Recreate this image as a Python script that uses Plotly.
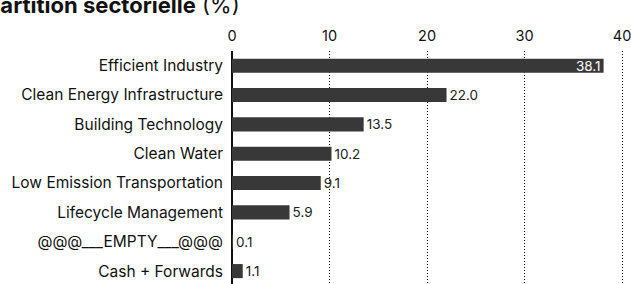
import plotly.graph_objects as go

categories = [
    "Efficient Industry",
    "Clean Energy Infrastructure",
    "Building Technology",
    "Clean Water",
    "Low Emission Transportation",
    "Lifecycle Management",
    "@@@___EMPTY___@@@",
    "Cash + Forwards",
]
values = [38.1, 22.0, 13.5, 10.2, 9.1, 5.9, 0.1, 1.1]
x_ticks = [0, 10, 20, 30, 40]
title_bold = "Répartition sectorielle"
title_rest = " (%)"

W, H = 631, 284
X_MAX = 40.4
ML, MT, MB = 232, 51, 0
plot_w = round(390 * X_MAX / 40)
MR = W - ML - plot_w
plot_h = H - MT - MB

FONT = "Inter, Liberation Sans, sans-serif"
positions = ["inside" if v > 30 else "outside" for v in values]

fig = go.Figure(
    go.Bar(
        x=values,
        y=categories,
        orientation="h",
        marker=dict(color="#383838", line=dict(width=0)),
        text=[f"{v:.1f}" for v in values],
        textposition=positions,
        insidetextanchor="end",
        constraintext="none",
        insidetextfont=dict(color="#ffffff", size=13.5, family=FONT),
        outsidetextfont=dict(color="#222222", size=13.5, family=FONT),
        cliponaxis=False,
        width=0.48,
        hoverinfo="skip",
    )
)

fig.update_layout(
    width=W,
    height=H,
    margin=dict(l=ML, r=MR, t=MT, b=MB, pad=0),
    paper_bgcolor="white",
    plot_bgcolor="white",
    showlegend=False,
    font=dict(family=FONT, size=15, color="#111111"),
    xaxis=dict(
        side="top",
        range=[0, X_MAX],
        tickvals=x_ticks,
        ticktext=[str(t) for t in x_ticks],
        showgrid=True,
        gridcolor="#000000",
        gridwidth=1,
        griddash="1px,2px",
        zeroline=True,
        zerolinecolor="#111111",
        zerolinewidth=1.5,
        showline=False,
        ticks="",
        ticklabelstandoff=6,
        ticklabeloverflow="allow",
        tickfont=dict(size=14.5, color="#111111"),
        fixedrange=True,
        automargin=False,
    ),
    yaxis=dict(
        type="category",
        categoryorder="array",
        categoryarray=categories,
        range=[7.44, -0.5],
        showgrid=False,
        zeroline=False,
        showline=False,
        ticks="",
        ticklabelstandoff=8,
        tickfont=dict(size=15.5, color="#111111"),
        fixedrange=True,
        automargin=False,
    ),
    annotations=[
        dict(
            text=f"<b>{title_bold}</b>{title_rest}",
            xref="paper",
            yref="paper",
            x=(242 - ML) / plot_w,
            y=1 + (MT - 20) / plot_h,
            xanchor="right",
            yanchor="bottom",
            showarrow=False,
            font=dict(size=22, color="#111111", family=FONT),
        )
    ],
)

fig.write_html(
    "out.html",
    config={"displayModeBar": False},
    post_script=(
        "document.body.style.margin='0';"
        "document.body.style.overflow='hidden';"
        "document.documentElement.style.overflow='hidden';"
    ),
)
